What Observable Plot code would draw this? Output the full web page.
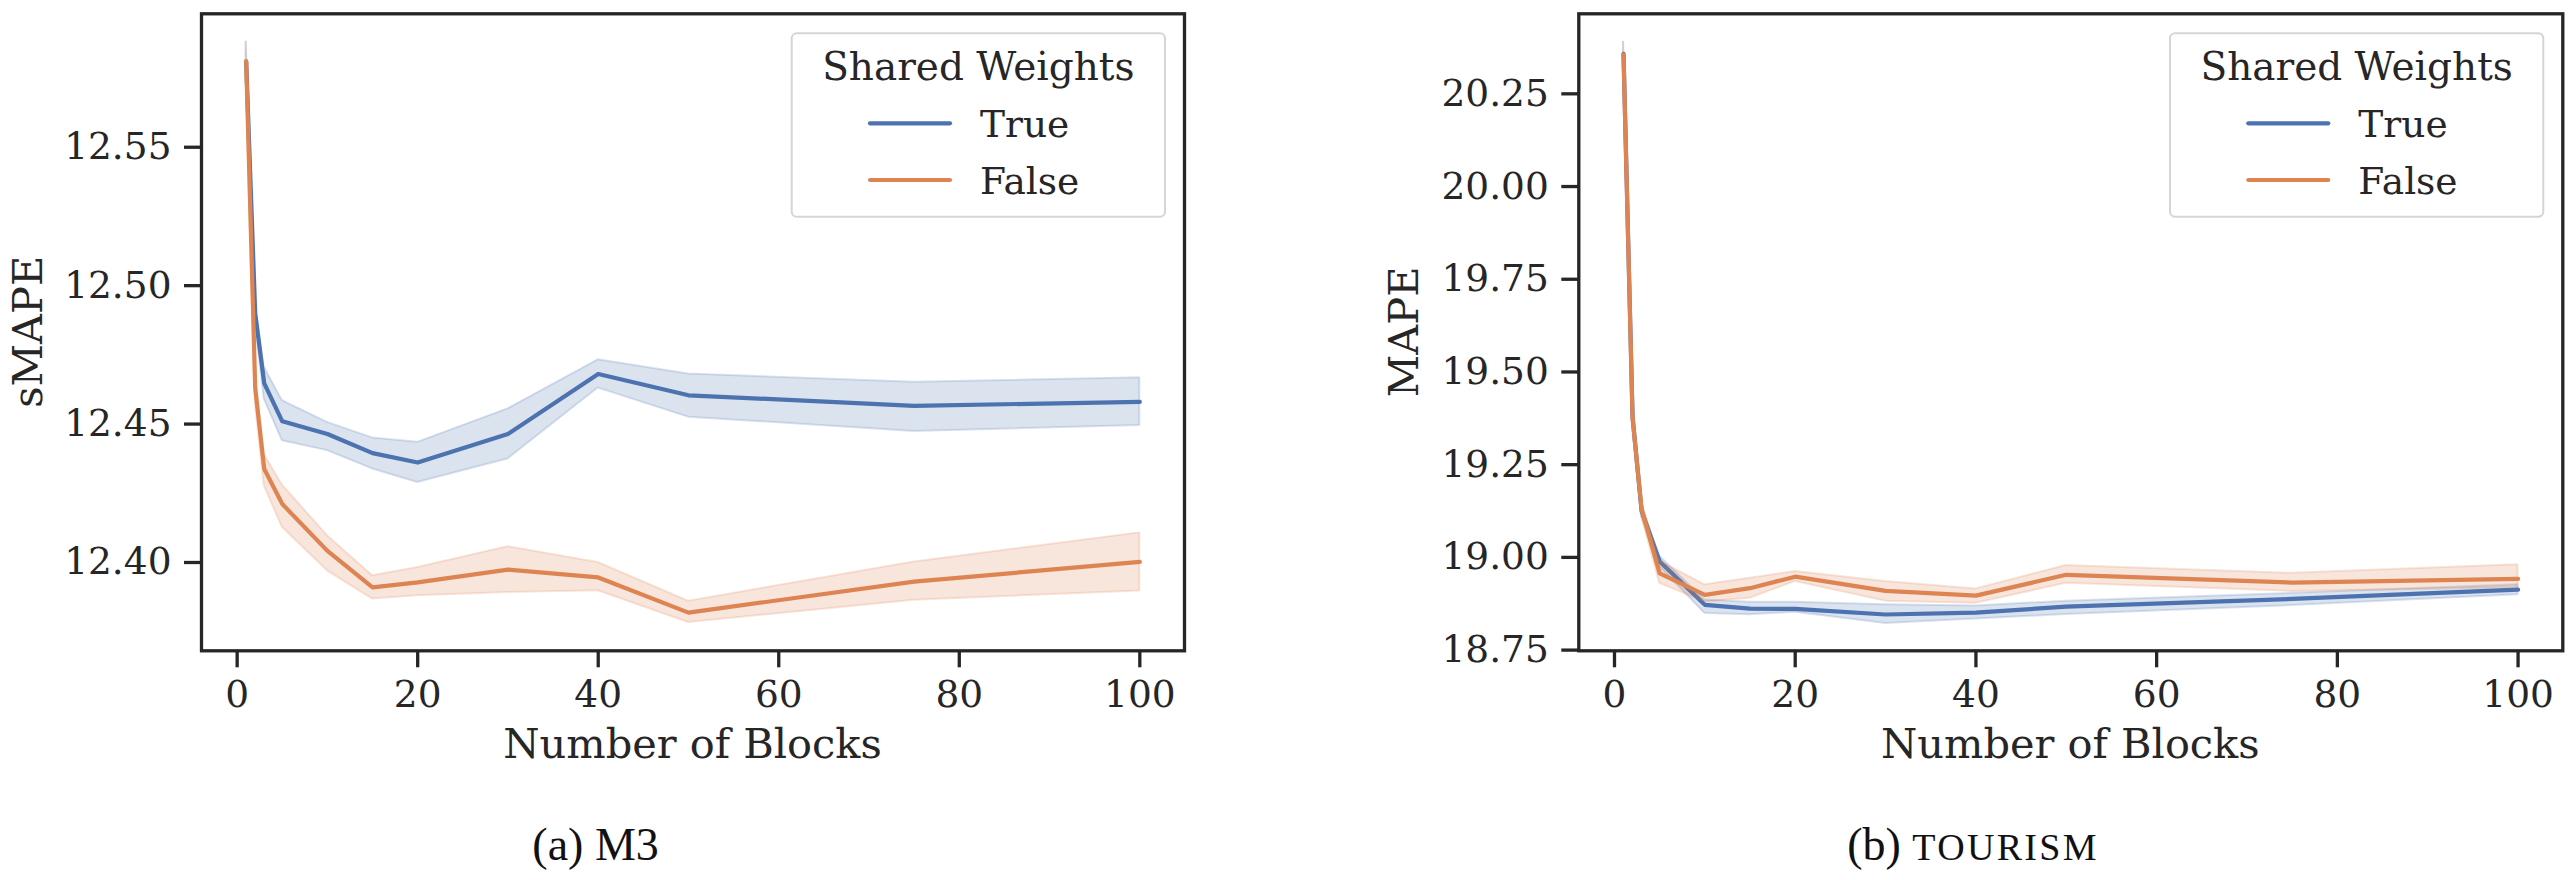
<!DOCTYPE html>
<html><head><meta charset="utf-8">
<script src="https://cdn.jsdelivr.net/npm/d3@7"></script>
<script src="https://cdn.jsdelivr.net/npm/@observablehq/plot@0.6"></script>
<style>
body{margin:0;background:#fff;}
#wrap{position:relative;width:2572px;height:880px;overflow:hidden;background:#fff;}
#wrap svg{position:absolute;top:0;}
</style></head><body><div id="wrap"></div>
<script>
// ---- data ----
const blocks = [1, 2, 3, 5, 10, 15, 20, 30, 40, 50, 75, 100];
const seriesNames = ["True", "False"];
const seriesColors = ["#4C72B0", "#DD8452"];

// (a) M3 — sMAPE
const m3TrueMean  = [12.581, 12.490, 12.4647, 12.451, 12.4464, 12.4395, 12.4361, 12.4464, 12.4681, 12.4604, 12.4566, 12.458];
const m3TrueLow   = [12.575, 12.487, 12.459, 12.444, 12.4404, 12.4338, 12.4289, 12.4374, 12.463, 12.4525, 12.4473, 12.4495];
const m3TrueHigh  = [12.588, 12.493, 12.4705, 12.4585, 12.4506, 12.445, 12.4434, 12.4555, 12.4732, 12.4681, 12.4651, 12.4667];
const m3FalseMean = [12.581, 12.463, 12.4338, 12.4211, 12.4042, 12.391, 12.3928, 12.3974, 12.3946, 12.3819, 12.3931, 12.4002];
const m3FalseLow  = [12.575, 12.458, 12.4277, 12.4127, 12.397, 12.3868, 12.388, 12.3892, 12.3898, 12.3783, 12.3864, 12.3897];
const m3FalseHigh = [12.588, 12.468, 12.439, 12.428, 12.4097, 12.3952, 12.3982, 12.4057, 12.400, 12.386, 12.4002, 12.4107];

// (b) TOURISM — MAPE
const tourTrueMean  = [20.358, 19.380, 19.125, 18.989, 18.872, 18.862, 18.861, 18.846, 18.851, 18.867, 18.888, 18.913];
const tourTrueLow   = [20.340, 19.370, 19.110, 18.975, 18.849, 18.845, 18.852, 18.822, 18.834, 18.846, 18.870, 18.899];
const tourTrueHigh  = [20.389, 19.390, 19.140, 19.003, 18.885, 18.879, 18.879, 18.872, 18.869, 18.882, 18.903, 18.926];
const tourFalseMean = [20.355, 19.375, 19.130, 18.957, 18.899, 18.917, 18.948, 18.9095, 18.897, 18.953, 18.932, 18.942];
const tourFalseLow  = [20.340, 19.360, 19.110, 18.930, 18.880, 18.8895, 18.935, 18.882, 18.876, 18.930, 18.908, 18.918];
const tourFalseHigh = [20.389, 19.390, 19.150, 18.990, 18.926, 18.9435, 18.962, 18.935, 18.915, 18.978, 18.957, 18.980];

const xTicks = [0, 20, 40, 60, 80, 100];
const m3YTicks = [12.40, 12.45, 12.50, 12.55];
const tourYTicks = [18.75, 19.00, 19.25, 19.50, 19.75, 20.00, 20.25];

const xLabel = "Number of Blocks";
const legendTitle = "Shared Weights";

function rows(mean, low, high, series) {
  return blocks.map((b, i) => ({blocks: b, value: mean[i], lo: low[i], hi: high[i], series}));
}

const INK = "#262626";
const SERIF = "'DejaVu Serif', serif";

function panel(cfg) {
  const marks = [];
  cfg.series.forEach((d, i) => {
    marks.push(Plot.areaY(d, {x: "blocks", y1: "lo", y2: "hi", fill: seriesColors[i], fillOpacity: 0.2,
      stroke: seriesColors[i], strokeOpacity: 0.2, strokeWidth: 2}));
    marks.push(Plot.line(d, {x: "blocks", y: "value", stroke: seriesColors[i], strokeWidth: 4.2}));
  });
  marks.push(Plot.frame({stroke: INK, strokeWidth: 3.3}));
  marks.push(Plot.axisX({ticks: xTicks, tickSize: 17, tickPadding: 13, strokeWidth: 3.3, stroke: INK, fill: INK,
    fontSize: 37.5, label: null, tickFormat: d => String(d)}));
  marks.push(Plot.axisY({ticks: cfg.yTicks, tickSize: 17, tickPadding: 13, strokeWidth: 3.3, stroke: INK, fill: INK,
    fontSize: 37.5, label: null, tickFormat: d => d.toFixed(2)}));

  const svg = Plot.plot({
    width: cfg.width, height: 880,
    marginLeft: cfg.marginLeft, marginRight: cfg.marginRight, marginTop: 13.3, marginBottom: 229.7,
    style: {fontFamily: SERIF, color: INK, background: "transparent", overflow: "visible"},
    x: {domain: [-3.95, 104.95]},
    y: {domain: cfg.yDomain},
    marks
  });
  svg.style.left = cfg.left + "px";

  const fl = cfg.marginLeft, fr = cfg.width - cfg.marginRight, ft = 13.3, fb = 880 - 229.7;
  const s = d3.select(svg);

  // axis labels
  s.append("text").attr("x", (fl + fr) / 2).attr("y", 758.3).attr("text-anchor", "middle")
    .attr("font-family", SERIF).attr("font-size", 41.5).attr("fill", INK).text(xLabel);
  s.append("text").attr("transform", `translate(${cfg.yLabelX},${(ft + fb) / 2}) rotate(-90)`)
    .attr("text-anchor", "middle").attr("font-family", SERIF).attr("font-size", 41.5)
    .attr("fill", INK).text(cfg.yLabel);

  // legend
  const bw = 373.3, bh = 183.4;
  const bx = fr - 19 - bw, by = ft + 20;
  const g = s.append("g");
  g.append("rect").attr("x", bx).attr("y", by).attr("width", bw).attr("height", bh).attr("rx", 5)
    .attr("fill", "#fff").attr("fill-opacity", 0.8).attr("stroke", "#d5d5d5").attr("stroke-width", 2);
  g.append("text").attr("x", bx + bw / 2).attr("y", by + 46.7).attr("text-anchor", "middle")
    .attr("font-family", SERIF).attr("font-size", 39).attr("fill", INK).text(legendTitle);
  seriesNames.forEach((name, i) => {
    const ly = by + 90 + i * 56.7;
    g.append("line").attr("x1", bx + 78.3).attr("x2", bx + 158.3).attr("y1", ly).attr("y2", ly)
      .attr("stroke", seriesColors[i]).attr("stroke-width", 4.2).attr("stroke-linecap", "round");
    g.append("text").attr("x", bx + 188.3).attr("y", ly + 14).attr("text-anchor", "start")
      .attr("font-family", SERIF).attr("font-size", 37.5).attr("fill", INK).text(name);
  });

  // caption
  const cap = s.append("text").attr("x", cfg.captionX).attr("y", 860).attr("text-anchor", "middle")
    .attr("font-family", "'Liberation Serif', 'Times New Roman', serif").attr("font-size", 46).attr("fill", "#111");
  cap.append("tspan").text(cfg.captionPrefix);
  if (cfg.captionSC) cap.append("tspan").attr("font-size", 38).attr("letter-spacing", 2.3).text(cfg.captionSC);

  return svg;
}

const wrap = document.getElementById("wrap");
wrap.appendChild(panel({
  series: [rows(m3TrueMean, m3TrueLow, m3TrueHigh, "True"), rows(m3FalseMean, m3FalseLow, m3FalseHigh, "False")],
  width: 1290, left: 0, marginLeft: 201, marginRight: 106,
  yDomain: [12.3681, 12.5982], yTicks: m3YTicks, yLabel: "sMAPE", yLabelX: 42.4,
  captionX: 595.6, captionPrefix: "(a) M3", captionSC: null
}));
wrap.appendChild(panel({
  series: [rows(tourTrueMean, tourTrueLow, tourTrueHigh, "True"), rows(tourFalseMean, tourFalseLow, tourFalseHigh, "False")],
  width: 1282, left: 1290, marginLeft: 288.3, marginRight: 9.7,
  yDomain: [18.7481, 20.4658], yTicks: tourYTicks, yLabel: "MAPE", yLabelX: 128.3,
  captionX: 683, captionPrefix: "(b) ", captionSC: "TOURISM"
}));
</script></body></html>
